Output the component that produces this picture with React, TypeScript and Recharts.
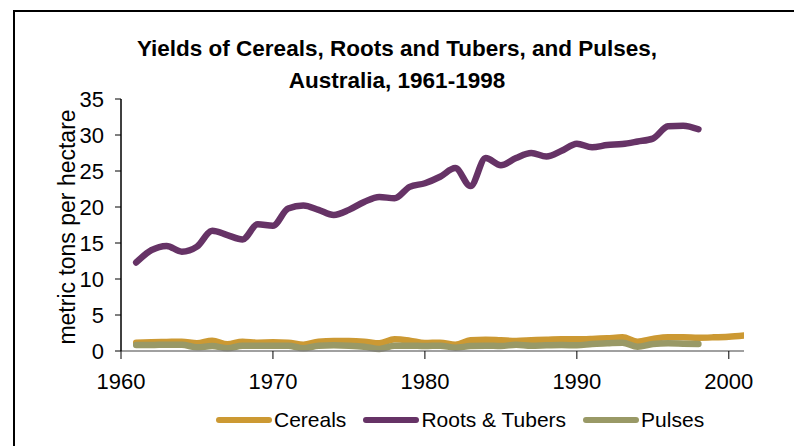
import { LineChart, Line, XAxis, YAxis } from 'recharts';

const years = [
  1961, 1962, 1963, 1964, 1965, 1966, 1967, 1968, 1969, 1970,
  1971, 1972, 1973, 1974, 1975, 1976, 1977, 1978, 1979, 1980,
  1981, 1982, 1983, 1984, 1985, 1986, 1987, 1988, 1989, 1990,
  1991, 1992, 1993, 1994, 1995, 1996, 1997, 1998, 1999, 2000, 2001,
];

// 1961-2001
const cereals = [
  1.16, 1.2, 1.25, 1.3, 1.07, 1.44, 0.93, 1.3, 1.16, 1.2,
  1.16, 0.88, 1.3, 1.39, 1.39, 1.3, 1.07, 1.62, 1.44, 1.1,
  1.16, 0.88, 1.48, 1.57, 1.48, 1.39, 1.48, 1.57, 1.62, 1.62,
  1.67, 1.76, 1.9, 1.3, 1.67, 1.9, 1.9, 1.85, 1.9, 1.99, 2.15,
];

// 1961-1998
const rootsTubers = [
  12.3, 14.0, 14.6, 13.8, 14.5, 16.7, 16.1, 15.5, 17.6, 17.4,
  19.8, 20.2, 19.6, 18.9, 19.6, 20.7, 21.4, 21.2, 22.8, 23.3,
  24.2, 25.4, 22.9, 26.8, 25.8, 26.8, 27.5, 27.0, 27.8, 28.8,
  28.3, 28.6, 28.75, 29.1, 29.5, 31.2, 31.3, 30.8,
];

// 1961-1998
const pulses = [
  0.83, 0.83, 0.88, 0.88, 0.51, 0.69, 0.37, 0.74, 0.74, 0.74,
  0.74, 0.37, 0.74, 0.79, 0.74, 0.6, 0.28, 0.74, 0.74, 0.69,
  0.74, 0.46, 0.69, 0.74, 0.69, 0.88, 0.74, 0.79, 0.83, 0.79,
  0.97, 1.07, 1.16, 0.6, 0.97, 1.07, 1.02, 0.97,
];

const xTicks = [1960, 1970, 1980, 1990, 2000];
const yTicks = [0, 5, 10, 15, 20, 25, 30, 35];

const series = [
  { key: 'cereals', name: 'Cereals', color: '#CC9933' },
  { key: 'roots', name: 'Roots & Tubers', color: '#663366' },
  { key: 'pulses', name: 'Pulses', color: '#999966' },
];

const data = years.map((year, i) => ({
  year,
  cereals: cereals[i],
  roots: rootsTubers[i],
  pulses: pulses[i],
}));

const FONT = '"Liberation Sans", Arial, sans-serif';

export default function App() {
  return (
    <div style={{
      position: 'fixed', left: 0, top: 0, width: 794, height: 446,
      overflow: 'hidden', background: '#fff',
    }}>
      {/* chart frame, runs off the right and bottom edges */}
      <div style={{
        position: 'absolute', left: 13, top: 10, width: 900, height: 600,
        border: '2px solid #000',
      }} />
      <div style={{
        position: 'absolute', left: 0, top: 33, width: 794, textAlign: 'center',
        fontFamily: FONT, fontSize: 22.5, fontWeight: 700, lineHeight: '32px', color: '#000',
      }}>
        Yields of Cereals, Roots and Tubers, and Pulses,<br />Australia, 1961-1998
      </div>
      <div style={{ position: 'absolute', left: 0, top: 0 }}>
        <LineChart
          width={794}
          height={446}
          data={data}
          margin={{ top: 99, right: 50, left: 61, bottom: 65 }}
        >
          <XAxis
            dataKey="year"
            type="number"
            domain={[1960, 2001]}
            ticks={xTicks}
            allowDataOverflow
            height={30}
            axisLine={{ stroke: '#808080', strokeWidth: 1.5 }}
            tickLine={{ stroke: '#000', strokeWidth: 1 }}
            tickSize={8}
            tickMargin={14}
            tick={{ fontSize: 22, fill: '#000', fontFamily: FONT }}
          />
          <YAxis
            type="number"
            domain={[0, 35]}
            ticks={yTicks}
            width={60}
            axisLine={{ stroke: '#000', strokeWidth: 1.5 }}
            tickLine={{ stroke: '#000', strokeWidth: 1 }}
            tickSize={6}
            tickMargin={11}
            tick={{ fontSize: 22, fill: '#000', fontFamily: FONT }}
            label={{
              content: () => (
                <text
                  x={67}
                  y={227}
                  transform="rotate(-90 67 227)"
                  textAnchor="middle"
                  dominantBaseline="central"
                  fontFamily={FONT}
                  fontSize={23}
                  fill="#000"
                >
                  metric tons per hectare
                </text>
              ),
            }}
          />
          {series.map(s => (
            <Line
              key={s.key}
              dataKey={s.key}
              name={s.name}
              type="monotone"
              stroke={s.color}
              strokeWidth={6.5}
              strokeLinecap="round"
              strokeLinejoin="round"
              dot={false}
              activeDot={false}
              connectNulls={false}
              isAnimationActive={false}
            />
          ))}
        </LineChart>
      </div>
      {/* legend */}
      <div style={{
        position: 'absolute', left: 215, top: 406, display: 'flex', alignItems: 'center',
        fontFamily: FONT, fontSize: 21, color: '#000', lineHeight: '28px',
      }}>
        {series.map((s, i) => (
          <div key={s.key} style={{ display: 'flex', alignItems: 'center', marginLeft: i ? 16 : 0 }}>
            <svg width={58} height={8} style={{ marginRight: 1 }}>
              <line x1={4} y1={4} x2={54} y2={4} stroke={s.color} strokeWidth={6} strokeLinecap="round" />
            </svg>
            <span>{s.name}</span>
          </div>
        ))}
      </div>
    </div>
  );
}
